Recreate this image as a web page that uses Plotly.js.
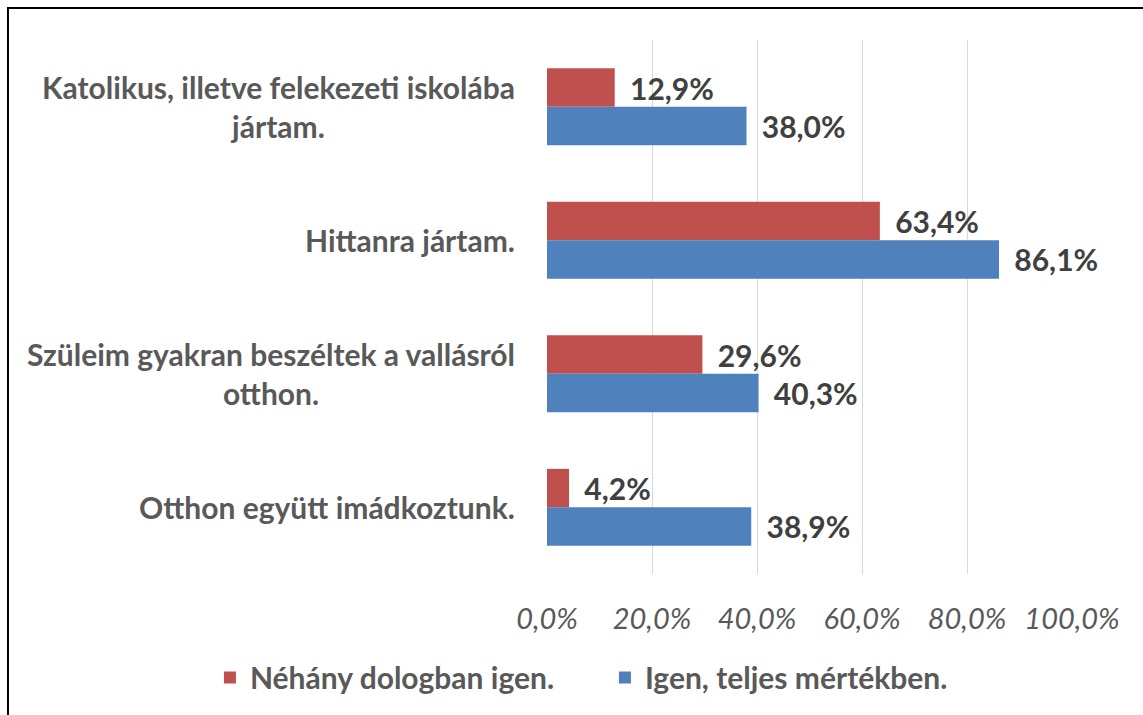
<!DOCTYPE html>
<html><head><meta charset="utf-8">
<script src="https://cdn.plot.ly/plotly-3.0.1.min.js"></script>
<style>html,body{margin:0;padding:0;background:#fff}#chart{width:1143px;height:715px}</style>
</head><body><div id="chart"></div>
<script>
const categories = ["Katolikus, illetve felekezeti iskolába<br>jártam.", "Hittanra jártam.", "Szüleim gyakran beszéltek a vallásról<br>otthon.", "Otthon együtt imádkoztunk."];
const catKeys = ["c1","c2","c3","c4"];
const seriesNames = ["Néhány dologban igen.", "Igen, teljes mértékben."];
const partlyValues = [12.9, 63.4, 29.6, 4.2];
const fullyValues = [38.0, 86.1, 40.3, 38.9];
const tickValues = [0, 20, 40, 60, 80, 100];
const tickLabels = ["0,0%", "20,0%", "40,0%", "60,0%", "80,0%", "100,0%"];

const FONT = "Lato, 'Open Sans', sans-serif";
const labelFont = {family: FONT, size: 30, color: '#404040', weight: 'bold'};

const traces = [
  {type:'bar', orientation:'h', name: seriesNames[0], y: catKeys, x: partlyValues,
   marker:{color:'#C0504D'}, texttemplate:' \u2006%{x:.1f}%', textposition:'outside',
   textfont: labelFont, cliponaxis:false, hoverinfo:'none'},
  {type:'bar', orientation:'h', name: seriesNames[1], y: catKeys, x: fullyValues,
   marker:{color:'#4F81BD'}, texttemplate:' \u2006%{x:.1f}%', textposition:'outside',
   textfont: labelFont, cliponaxis:false, hoverinfo:'none'}
];

const annotations = categories.map((c, i) => ({
  xref:'paper', yref:'y', x: -0.057, y: catKeys[i], text: c, showarrow:false,
  xanchor:'right', yanchor:'middle', align:'center',
  font:{family: FONT, size: 30, color:'#595959', weight:'bold'}
}));

const layout = {
  width:1143, height:715,
  margin:{l:547, r:71, t:40, b:139},
  paper_bgcolor:'#fff', plot_bgcolor:'#fff',
  separators:',.',
  barmode:'group', bargap:0.425, bargroupgap:0,
  xaxis:{range:[0,100], tickvals: tickValues, ticktext: tickLabels,
    showgrid:true, gridcolor:'#d9d9d9', gridwidth:1, zeroline:false, showline:false,
    ticks:'', ticklabelstandoff: 25,
    tickfont:{family: FONT, size: 29, color:'#595959', style:'italic'}, fixedrange:true},
  yaxis:{autorange:'reversed', showticklabels:false, showgrid:false, zeroline:false, ticks:'', fixedrange:true},
  showlegend:true,
  legend:{orientation:'h', xref:'paper', yref:'paper', x:-0.642, xanchor:'left', y:-0.194, yanchor:'middle',
    font:{family: FONT, size: 30, color:'#595959', weight:'bold'}, entrywidth:350, entrywidthmode:'pixels', traceorder:'normal'},
  annotations: annotations,
  shapes:[{type:'rect', xref:'paper', yref:'paper', x0:-1.0267, x1:1.5, y0:-0.5, y1:1.0597,
    line:{color:'#000', width:2}, fillcolor:'rgba(0,0,0,0)', layer:'above'}]
};
Plotly.newPlot('chart', traces, layout, {displayModeBar:false, staticPlot:true});
</script></body></html>
